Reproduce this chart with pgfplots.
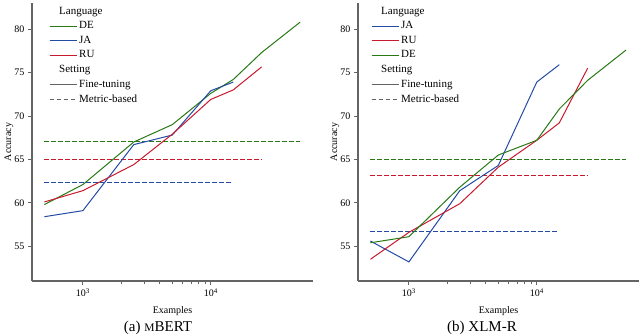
\documentclass[border=0pt]{standalone}
\usepackage{fontspec}
\setmainfont{Liberation Serif}
\usepackage{pgfplots}
\pgfplotsset{compat=1.18}

\definecolor{deG}{RGB}{40,120,20}
\definecolor{jaB}{RGB}{35,75,165}
\definecolor{ruR}{RGB}{200,25,45}
\definecolor{spine}{RGB}{100,100,100}

\tikzset{mbdash/.style={dash pattern=on 4.5pt off 2.5pt}}

\pgfplotsset{
  longline/.style={legend image code/.code={\draw[##1] (0pt,0pt) -- (21pt,0pt); \path (0pt,0pt) -- (27pt,0pt);}},
  every axis/.append style={
    scale only axis, width=281pt, height=278pt,
    xmin=400, xmax=63000, ymin=51, ymax=83,
    axis x line*=bottom, axis y line*=left,
    axis line style={draw=spine, line width=1.2pt},
    tick style={draw=spine, line width=0.8pt},
    tick align=outside, major tick length=4pt, minor tick length=3pt,
    xtick={1000,10000}, xticklabels={10\textsuperscript{3},10\textsuperscript{4}},
    ytick={55,60,65,70,75,80}, minor y tick num=0,
    yticklabel style={/pgf/number format/assume math mode=true},
    tick label style={font=\fontsize{10}{12}\selectfont},
    label style={font=\fontsize{10.5}{12}\selectfont},
    xlabel={Examples}, ylabel={Accuracy},
    every axis x label/.style={at={(axis description cs:0.5,0)}, anchor=base, yshift=-32pt},
    every axis y label/.style={at={(axis description cs:-0.082,0.5)}, rotate=90, anchor=center},
    legend style={at={(0,1)}, anchor=north west,
      draw=none, fill=none, font=\fontsize{11}{12}\selectfont,
      row sep=1.8pt, cells={anchor=west}},
  },
}

\begin{document}
\begin{tikzpicture}
\useasboundingbox (0,0) rectangle (640pt,333pt);

% (a) mBERT
\begin{semilogxaxis}[at={(32pt,52pt)}, anchor=south west, legend style={xshift=14pt}]
  \addlegendimage{empty legend}\addlegendentry{\hspace*{-20pt}Language}
  \addlegendimage{longline, color=deG, line width=1pt}\addlegendentry{DE}
  \addlegendimage{longline, color=jaB, line width=1pt}\addlegendentry{JA}
  \addlegendimage{longline, color=ruR, line width=1pt}\addlegendentry{RU}
  \addlegendimage{empty legend}\addlegendentry{\hspace*{-20pt}Setting}
  \addlegendimage{longline, color=spine, line width=1pt}\addlegendentry{Fine-tuning}
  \addlegendimage{longline, color=spine, line width=1pt, mbdash}\addlegendentry{Metric-based}

  \addplot[color=deG, line width=1pt, mbdash, forget plot] coordinates {(500,67.1) (50000,67.1)};
  \addplot[color=ruR, line width=1pt, mbdash, forget plot] coordinates {(500,65.0) (25000,65.0)};
  \addplot[color=jaB, line width=1pt, mbdash, forget plot] coordinates {(500,62.3) (15000,62.3)};

  \addplot[color=deG, line width=1pt, forget plot] coordinates {
    (500,59.8) (1000,62.1) (2500,67.0) (5000,69.0) (10000,72.6) (15000,74.2) (25000,77.3) (50000,80.8)};
  \addplot[color=jaB, line width=1pt, forget plot] coordinates {
    (500,58.4) (1000,59.1) (2500,66.7) (5000,67.8) (10000,72.9) (15000,73.9)};
  \addplot[color=ruR, line width=1pt, forget plot] coordinates {
    (500,60.1) (1000,61.4) (2500,64.4) (5000,67.9) (10000,71.9) (15000,73.0) (25000,75.65)};
\end{semilogxaxis}

% (b) XLM-R
\begin{semilogxaxis}[at={(358pt,52pt)}, anchor=south west, legend style={xshift=10pt}]
  \addlegendimage{empty legend}\addlegendentry{\hspace*{-20pt}Language}
  \addlegendimage{longline, color=jaB, line width=1pt}\addlegendentry{JA}
  \addlegendimage{longline, color=ruR, line width=1pt}\addlegendentry{RU}
  \addlegendimage{longline, color=deG, line width=1pt}\addlegendentry{DE}
  \addlegendimage{empty legend}\addlegendentry{\hspace*{-20pt}Setting}
  \addlegendimage{longline, color=spine, line width=1pt}\addlegendentry{Fine-tuning}
  \addlegendimage{longline, color=spine, line width=1pt, mbdash}\addlegendentry{Metric-based}

  \addplot[color=jaB, line width=1pt, mbdash, forget plot] coordinates {(500,56.7) (15000,56.7)};
  \addplot[color=ruR, line width=1pt, mbdash, forget plot] coordinates {(500,63.1) (25000,63.1)};
  \addplot[color=deG, line width=1pt, mbdash, forget plot] coordinates {(500,65.0) (50000,65.0)};

  \addplot[color=jaB, line width=1pt, forget plot] coordinates {
    (500,55.6) (1000,53.2) (2500,61.4) (5000,64.3) (10000,73.9) (15000,75.9)};
  \addplot[color=ruR, line width=1pt, forget plot] coordinates {
    (500,53.5) (1000,56.6) (2500,59.9) (5000,64.1) (10000,67.2) (15000,69.2) (25000,75.5)};
  \addplot[color=deG, line width=1pt, forget plot] coordinates {
    (500,55.4) (1000,56.1) (2500,61.8) (5000,65.5) (10000,67.2) (15000,70.8) (25000,74.1) (50000,77.6)};
\end{semilogxaxis}

\node[anchor=base, font=\fontsize{15}{17}\selectfont] at (158pt,2pt) {(a)~{\fontsize{11.5}{13}\selectfont M}BERT};
\node[anchor=base, font=\fontsize{15}{17}\selectfont] at (482pt,2pt) {(b)~XLM-R};
\end{tikzpicture}
\end{document}
